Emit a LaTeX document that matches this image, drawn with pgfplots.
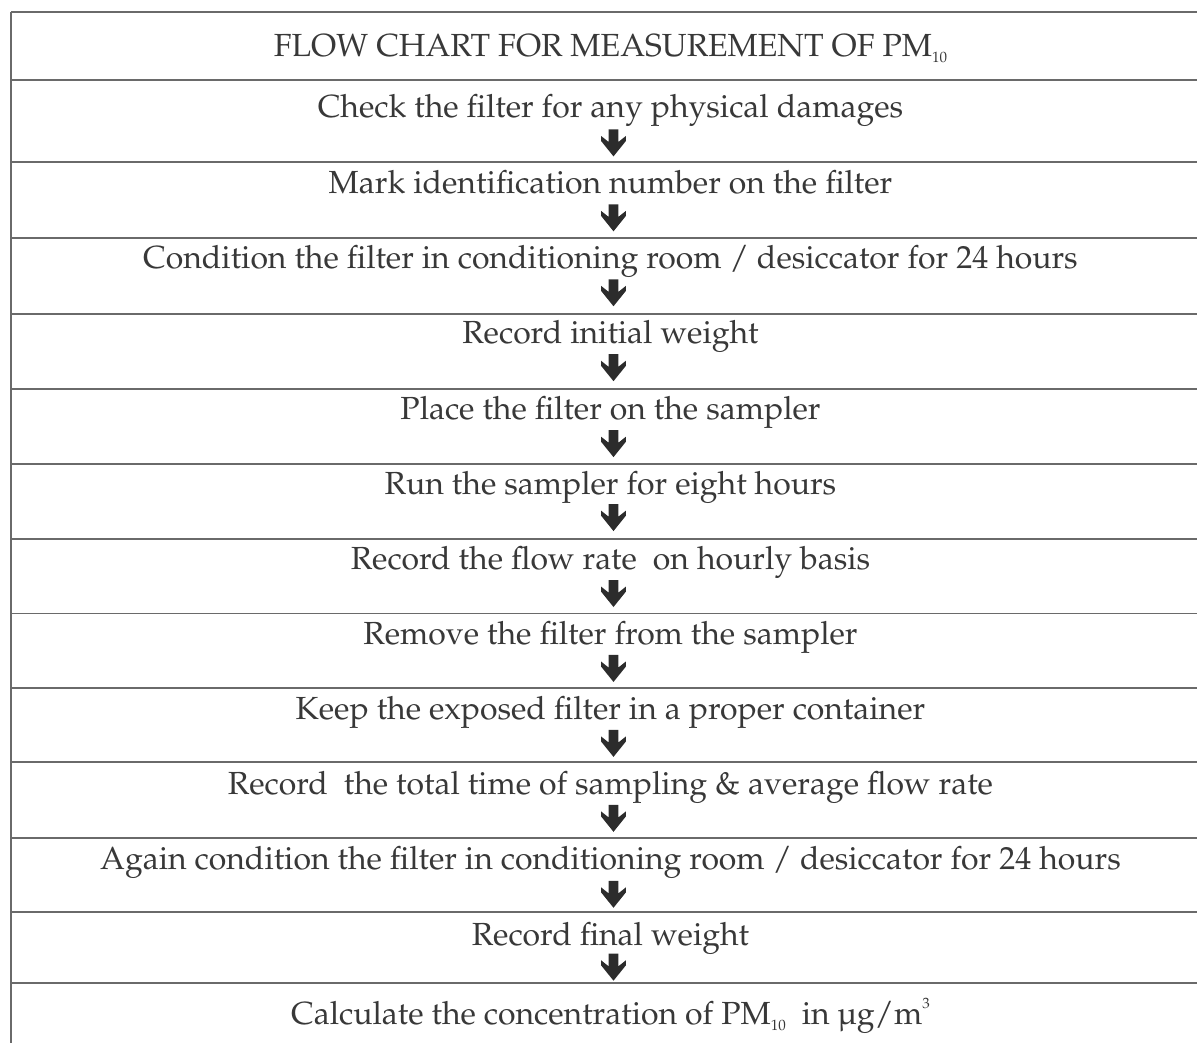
\documentclass[border=0pt]{standalone}
\usepackage[T1]{fontenc}
\usepackage{mathpazo}
\usepackage{pgfplots}
\pgfplotsset{compat=1.18}
\definecolor{txt}{HTML}{383838}
\definecolor{rulec}{HTML}{6A6A6A}
\definecolor{arr}{HTML}{2C2C2C}
\pgfdeclareplotmark{dnarrow}{%
  \pgfpathmoveto{\pgfqpoint{2.5pt}{6.75pt}}%
  \pgfpathlineto{\pgfqpoint{2.5pt}{0.5pt}}%
  \pgfpathlineto{\pgfqpoint{6.25pt}{3.5pt}}%
  \pgfpathlineto{\pgfqpoint{6.25pt}{1.0pt}}%
  \pgfpathlineto{\pgfqpoint{0pt}{-6.75pt}}%
  \pgfpathlineto{\pgfqpoint{-6.25pt}{1.0pt}}%
  \pgfpathlineto{\pgfqpoint{-6.25pt}{3.5pt}}%
  \pgfpathlineto{\pgfqpoint{-2.5pt}{0.5pt}}%
  \pgfpathlineto{\pgfqpoint{-2.5pt}{6.75pt}}%
  \pgfpathclose
  \pgfusepathqfill}
\newcommand{\sub}[1]{\raisebox{-3pt}{\fontsize{7.5}{8}\selectfont #1}}
\newcommand{\sups}[1]{\raisebox{8pt}{\fontsize{7.5}{8}\selectfont #1}}
\begin{document}
\begin{tikzpicture}
\begin{axis}[x=0.5pt, y=0.5pt, xmin=0, xmax=1198, ymin=0, ymax=1044,
  y dir=reverse, hide axis, clip=false, scale only axis,
  unbounded coords=jump]
\path (axis cs:0,0) rectangle (axis cs:1198,1044);
% table rules
\addplot[rulec, line width=1pt, no marks] coordinates {
(11,12) (1198,12) (nan,nan)
(11,80) (1198,80) (nan,nan)
(11,162) (1198,162) (nan,nan)
(11,238) (1198,238) (nan,nan)
(11,314) (1198,314) (nan,nan)
(11,389) (1198,389) (nan,nan)
(11,464) (1198,464) (nan,nan)
(11,539) (1198,539) (nan,nan)
(11,614) (1198,614) (nan,nan)
(11,689) (1198,689) (nan,nan)
(11,763) (1198,763) (nan,nan)
(11,839) (1198,839) (nan,nan)
(11,913) (1198,913) (nan,nan)
(11,984) (1198,984) (nan,nan)
(11,12) (11,1044)
};
% arrows
\addplot[only marks, mark=dnarrow, arr, mark options={fill=arr, draw=none}] coordinates {
(614,143) (614,218) (614,293) (614,368) (614,444) (614,518)
(614,594) (614,669) (614,744) (614,819) (614,895) (614,968)
};
\begin{scope}[every node/.style={anchor=base, text=txt, inner sep=0pt, font=\fontsize{16}{19}\selectfont}]
\node at (axis cs:611,57) {FLOW CHART FOR MEASUREMENT OF PM\sub{10}};
\node at (axis cs:611,118) {Check the filter for any physical damages};
\node at (axis cs:611,194) {Mark identification number on the filter};
\node at (axis cs:611,269) {Condition the filter in conditioning room / desiccator for 24 hours};
\node at (axis cs:611,344) {Record initial weight};
\node at (axis cs:611,420) {Place the filter on the sampler};
\node at (axis cs:611,495) {Run the sampler for eight hours};
\node at (axis cs:611,570) {Record the flow rate\ \ on hourly basis};
\node at (axis cs:611,645) {Remove the filter from the sampler};
\node at (axis cs:611,720) {Keep the exposed filter in a proper container};
\node at (axis cs:611,795) {Record\ \ the total time of sampling \& average flow rate};
\node at (axis cs:611,870) {Again condition the filter in conditioning room / desiccator for 24 hours};
\node at (axis cs:611,946) {Record final weight};
\node at (axis cs:611,1025) {Calculate the concentration of PM\sub{10}\ \ in \textmu g/m\sups{3}};
\end{scope}
\end{axis}
\end{tikzpicture}
\end{document}
